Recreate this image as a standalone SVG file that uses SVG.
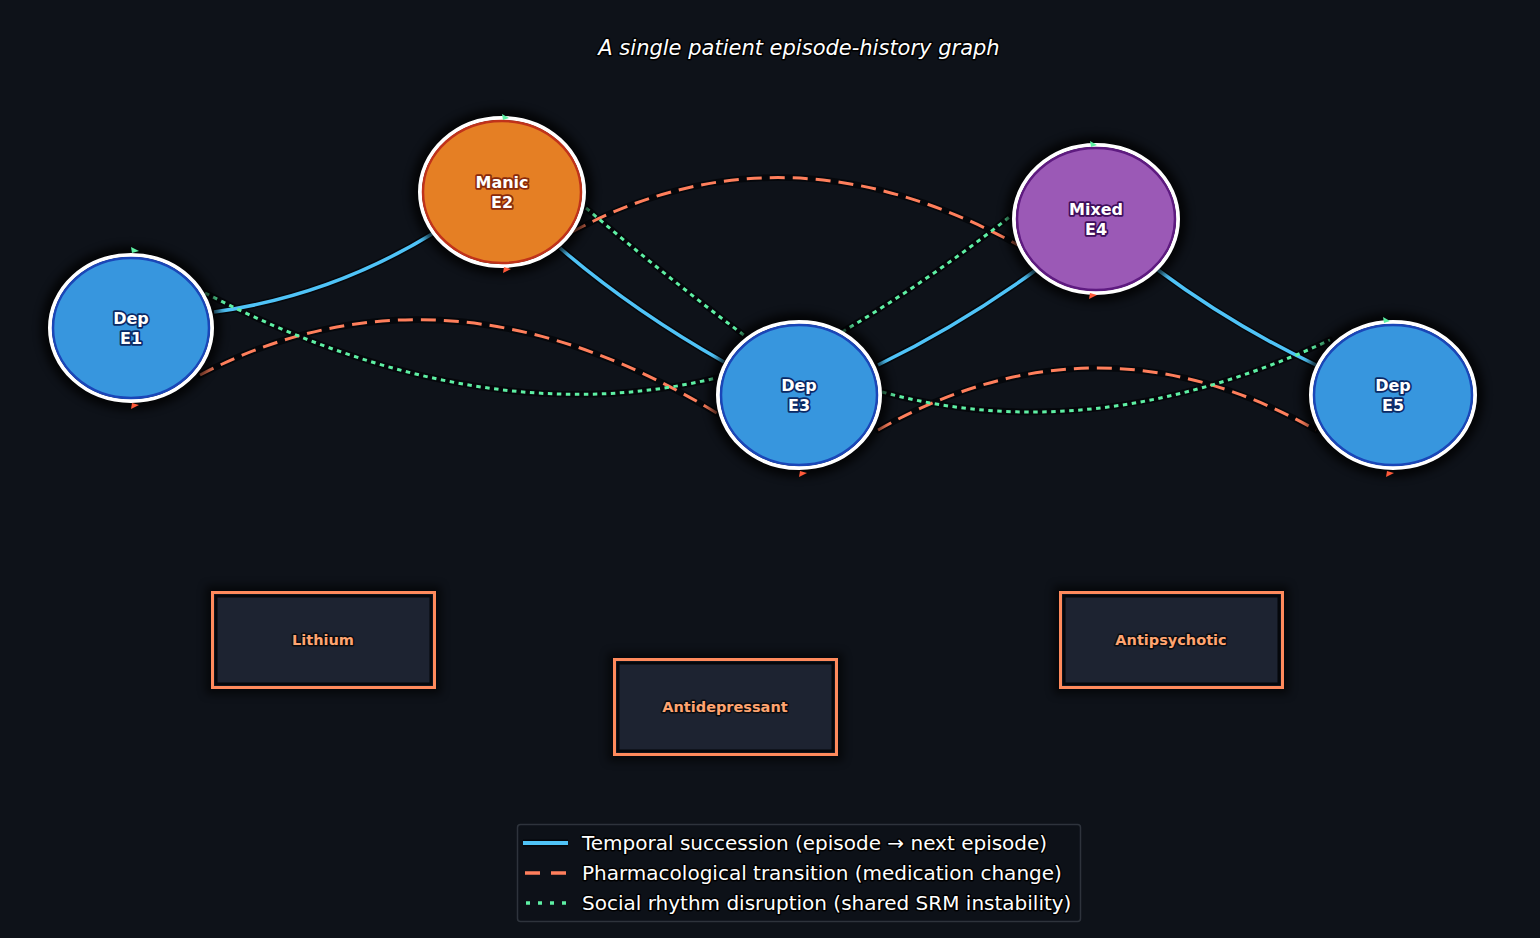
<svg xmlns="http://www.w3.org/2000/svg" width="1540" height="938" viewBox="0 0 1540 938">
<defs>
<filter id="halo" x="-30%" y="-30%" width="160%" height="160%">
<feGaussianBlur stdDeviation="4"/>
</filter>
<style>
.bg{fill:#0e1219}
.edge-under{fill:none;stroke:#05070b;stroke-width:6.5;stroke-linecap:round}
.temporal{fill:none;stroke:#4fc3f7;stroke-width:3.5}
.pharma{fill:none;stroke:#ff7f5c;stroke-width:3;stroke-dasharray:15 8}
.social{fill:none;stroke:#5ef0a4;stroke-width:3;stroke-dasharray:4.5 4.5}
.shadow{fill:#000;opacity:0.75}
.ring{stroke:#ffffff;stroke-width:4}
.nlabel{font-family:"DejaVu Sans",sans-serif;font-weight:bold;font-size:16px;fill:#ffffff;text-anchor:middle;paint-order:stroke;stroke-width:3.5;stroke-linejoin:round}
.box{fill:#1d2331;stroke:#ff8a5c;stroke-width:3}
.boxin{fill:none;stroke:#05070b;stroke-width:3}
.blabel{font-family:"DejaVu Sans",sans-serif;font-weight:bold;font-size:14.5px;fill:#ffa470;text-anchor:middle;paint-order:stroke;stroke:#0a0c10;stroke-width:3;stroke-linejoin:round}
.legtext{font-family:"DejaVu Sans",sans-serif;font-size:20px;fill:#ffffff;paint-order:stroke;stroke:#000;stroke-width:3;stroke-linejoin:round}
.tip-g{fill:#5ef0a4}
.tip-r{fill:#ff5a3a}
</style>
</defs>
<rect class="bg" x="0" y="0" width="1540" height="938"/>

<text x="799" y="55" font-family="DejaVu Sans, sans-serif" font-style="italic" font-size="21" fill="#ffffff" text-anchor="middle" stroke="#000" stroke-width="3" paint-order="stroke" stroke-linejoin="round">A single patient episode-history graph</text>

<g id="connectors">
  <path class="edge-under" d="M214,312 Q330,296 432,234"/>
  <path class="edge-under" d="M560,248 Q632,310 724,362"/>
  <path class="edge-under" d="M878,365 Q960,325 1036,270"/>
  <path class="edge-under" d="M1158,270 Q1232,325 1316,365"/>
  <path class="edge-under" d="M200,375 Q445,247 720,415"/>
  <path class="edge-under" d="M572,232 Q785,117 1018,245"/>
  <path class="edge-under" d="M878,430 Q1097,306 1316,430"/>
  <path class="edge-under" d="M205,293 Q480,435 716,378"/>
  <path class="edge-under" d="M586,208 Q664,275 745,336"/>
  <path class="edge-under" d="M842,332 Q930,280 1012,215"/>
  <path class="edge-under" d="M882,392 Q1094,450 1330,340"/>
  <path class="temporal" d="M214,312 Q330,296 432,234"/>
  <path class="temporal" d="M560,248 Q632,310 724,362"/>
  <path class="temporal" d="M878,365 Q960,325 1036,270"/>
  <path class="temporal" d="M1158,270 Q1232,325 1316,365"/>
  <path class="pharma" d="M200,375 Q445,247 720,415"/>
  <path class="pharma" d="M572,232 Q785,117 1018,245"/>
  <path class="pharma" d="M878,430 Q1097,306 1316,430"/>
  <path class="social" d="M205,293 Q480,435 716,378"/>
  <path class="social" d="M586,208 Q664,275 745,336"/>
  <path class="social" d="M842,332 Q930,280 1012,215"/>
  <path class="social" d="M882,392 Q1094,450 1330,340"/>
</g>

<g id="node-E1">
  <ellipse class="shadow" cx="131" cy="328" rx="90" ry="82" filter="url(#halo)"/>
  <ellipse class="ring" cx="131" cy="328" rx="81" ry="73" fill="none"/>
  <ellipse cx="131" cy="328" rx="78" ry="70" fill="#3796de" stroke="#1a46b8" stroke-width="2.5"/>
  <text class="nlabel" x="131" y="324" stroke="#0b2a66">Dep</text>
  <text class="nlabel" x="131" y="344" stroke="#0b2a66">E1</text>
</g>

<g id="node-E2">
  <ellipse class="shadow" cx="502" cy="192" rx="91" ry="83" filter="url(#halo)"/>
  <ellipse class="ring" cx="502" cy="192" rx="82" ry="74" fill="none"/>
  <ellipse cx="502" cy="192" rx="79" ry="71" fill="#e57f24" stroke="#c0321a" stroke-width="2.5"/>
  <text class="nlabel" x="502" y="188" stroke="#8a2a0a">Manic</text>
  <text class="nlabel" x="502" y="208" stroke="#8a2a0a">E2</text>
</g>

<g id="node-E3">
  <ellipse class="shadow" cx="799" cy="395" rx="90" ry="82" filter="url(#halo)"/>
  <ellipse class="ring" cx="799" cy="395" rx="81" ry="73" fill="none"/>
  <ellipse cx="799" cy="395" rx="78" ry="70" fill="#3796de" stroke="#1a46b8" stroke-width="2.5"/>
  <text class="nlabel" x="799" y="391" stroke="#0b2a66">Dep</text>
  <text class="nlabel" x="799" y="411" stroke="#0b2a66">E3</text>
</g>

<g id="node-E4">
  <ellipse class="shadow" cx="1096" cy="219" rx="91" ry="83" filter="url(#halo)"/>
  <ellipse class="ring" cx="1096" cy="219" rx="82" ry="74" fill="none"/>
  <ellipse cx="1096" cy="219" rx="79" ry="71" fill="#9b59b6" stroke="#5e1a80" stroke-width="2.5"/>
  <text class="nlabel" x="1096" y="215" stroke="#3e0d5a">Mixed</text>
  <text class="nlabel" x="1096" y="235" stroke="#3e0d5a">E4</text>
</g>

<g id="node-E5">
  <ellipse class="shadow" cx="1393" cy="395" rx="91" ry="82" filter="url(#halo)"/>
  <ellipse class="ring" cx="1393" cy="395" rx="82" ry="73" fill="none"/>
  <ellipse cx="1393" cy="395" rx="79" ry="70" fill="#3796de" stroke="#1a46b8" stroke-width="2.5"/>
  <text class="nlabel" x="1393" y="391" stroke="#0b2a66">Dep</text>
  <text class="nlabel" x="1393" y="411" stroke="#0b2a66">E5</text>
</g>

<g id="connector-tips">
  <path class="tip-g" d="M131,247 L139,251 L132,253 Z"/>
  <path class="tip-r" d="M131,409 L139,405 L132,403 Z"/>
  <path class="tip-g" d="M502,114 L509,118 L503,120 Z"/>
  <path class="tip-r" d="M503,273 L511,269 L504,267 Z"/>
  <path class="tip-r" d="M799,477 L807,473 L800,471 Z"/>
  <path class="tip-g" d="M1090,141 L1097,145 L1091,147 Z"/>
  <path class="tip-r" d="M1089,299 L1097,295 L1090,293 Z"/>
  <path class="tip-g" d="M1383,317 L1390,321 L1384,323 Z"/>
  <path class="tip-r" d="M1386,477 L1394,473 L1387,471 Z"/>
</g>

<g id="node-lithium">
  <rect x="206" y="586" width="235" height="108" fill="#000" opacity="0.6" filter="url(#halo)"/>
  <rect class="box" x="212.5" y="592.5" width="222" height="95"/>
  <rect class="boxin" x="216" y="596" width="215" height="88"/>
  <text class="blabel" x="323" y="645">Lithium</text>
</g>

<g id="node-antidepressant">
  <rect x="608" y="653" width="235" height="108" fill="#000" opacity="0.6" filter="url(#halo)"/>
  <rect class="box" x="614.5" y="659.5" width="222" height="95"/>
  <rect class="boxin" x="618" y="663" width="215" height="88"/>
  <text class="blabel" x="725" y="712">Antidepressant</text>
</g>

<g id="node-antipsychotic">
  <rect x="1054" y="586" width="235" height="108" fill="#000" opacity="0.6" filter="url(#halo)"/>
  <rect class="box" x="1060.5" y="592.5" width="222" height="95"/>
  <rect class="boxin" x="1064" y="596" width="215" height="88"/>
  <text class="blabel" x="1171" y="645">Antipsychotic</text>
</g>

<g id="legend">
  <rect x="517.5" y="824.5" width="563" height="97" rx="3" fill="#0d1118" stroke="#2e333c" stroke-width="1.5"/>
  <line x1="523" y1="843" x2="568" y2="843" stroke="#05070b" stroke-width="7"/>
  <line x1="523" y1="843" x2="568" y2="843" stroke="#4fc3f7" stroke-width="4"/>
  <line x1="525" y1="873" x2="566" y2="873" stroke="#ff7f5c" stroke-width="3.5" stroke-dasharray="15 11"/>
  <line x1="526" y1="903" x2="566" y2="903" stroke="#5ef0a4" stroke-width="3.5" stroke-dasharray="4 8"/>
  <text class="legtext" x="582" y="850">Temporal succession (episode → next episode)</text>
  <text class="legtext" x="582" y="880">Pharmacological transition (medication change)</text>
  <text class="legtext" x="582" y="910">Social rhythm disruption (shared SRM instability)</text>
</g>
</svg>
